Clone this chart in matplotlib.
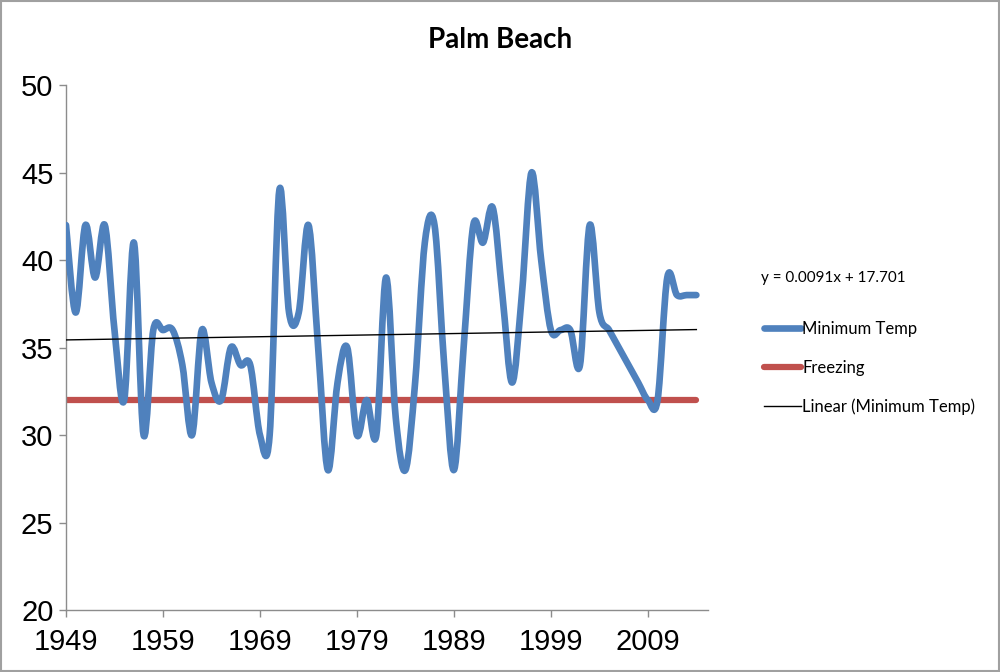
import matplotlib
matplotlib.use("Agg")
import matplotlib.pyplot as plt
from matplotlib import font_manager
from matplotlib.path import Path
from matplotlib.patches import PathPatch, Rectangle
from matplotlib.lines import Line2D
import numpy as np

# data
years = list(range(1949, 2015))
min_temp = [42, 37, 42, 39, 42, 36, 32, 41, 30, 36,
            36, 36, 34, 30, 36, 33, 32, 35, 34, 34,
            30, 30, 44, 37, 37, 42, 35, 28, 33, 35,
            30, 32, 30, 39, 31, 28, 33, 41, 42, 34,
            28, 35, 42, 41, 43, 38, 33, 38, 45, 40,
            36, 36, 36, 34, 42, 37, 36, 35, 34, 33,
            32, 32, 39, 38, 38, 38]
freezing = 32
trend_slope = 0.0091
trend_icept = 17.701
tick_years = [1949, 1959, 1969, 1979, 1989, 1999, 2009]
y_ticks = [20, 25, 30, 35, 40, 45, 50]


def pick_font(names):
    for n in names:
        try:
            font_manager.findfont(n, fallback_to_default=False)
            return n
        except Exception:
            pass
    return "DejaVu Sans"


tick_font = pick_font(["Liberation Sans Narrow", "Liberation Sans"])
text_font = pick_font(["Lato", "Open Sans"])


def smooth_path(xs, ys):
    # excel-like smoothed line: bezier segments through every data point
    x = np.asarray(xs, float)
    y = np.asarray(ys, float)
    n = len(x)
    verts = [(x[0], y[0])]
    codes = [Path.MOVETO]
    for i in range(n - 1):
        i0 = max(i - 1, 0)
        i3 = min(i + 2, n - 1)
        c1 = (x[i] + (x[i + 1] - x[i0]) / 6, y[i] + (y[i + 1] - y[i0]) / 6)
        c2 = (x[i + 1] - (x[i3] - x[i]) / 6, y[i + 1] - (y[i3] - y[i]) / 6)
        verts += [c1, c2, (x[i + 1], y[i + 1])]
        codes += [Path.CURVE4] * 3
    return Path(verts, codes)


blue = "#4F81BD"
red = "#C0504D"
grey = "#8C8C8C"

fig = plt.figure(figsize=(10, 6.72), dpi=100)
ax = fig.add_axes([0.066, 0.0923, 0.642, 0.781])

ax.add_patch(PathPatch(smooth_path(years, min_temp), facecolor="none",
                       edgecolor=blue, lw=4.8, capstyle="round",
                       joinstyle="round", zorder=3))
ax.plot([years[0], years[-1]], [freezing, freezing], color=red, lw=4.5,
        solid_capstyle="round", zorder=2)
tx = np.array([years[0], years[-1]])
ax.plot(tx, trend_slope * tx + trend_icept, color="black", lw=1, zorder=4)

ax.set_xlim(1949, 2015.2)
ax.set_ylim(20, 50)
ax.set_xticks(tick_years)
ax.set_yticks(y_ticks)
ax.set_xticklabels([str(t) for t in tick_years], fontfamily=tick_font, fontsize=21)
ax.set_yticklabels([str(t) for t in y_ticks], fontfamily=tick_font, fontsize=21)
ax.tick_params(axis="both", direction="out", length=5, color=grey, width=1)
ax.tick_params(axis="x", pad=8)
ax.tick_params(axis="y", pad=4)
for s in ["top", "right"]:
    ax.spines[s].set_visible(False)
for s in ["left", "bottom"]:
    ax.spines[s].set_color(grey)
    ax.spines[s].set_linewidth(1)

fig.text(0.5, 0.94, "Palm Beach", ha="center", va="center",
         fontfamily=text_font, fontweight="bold", fontsize=20)
fig.text(0.761, 0.586, "y = 0.0091x + 17.701", ha="left", va="center",
         fontfamily=text_font, fontsize=11)

handles = [Line2D([], [], color=blue, lw=4.8, solid_capstyle="round"),
           Line2D([], [], color=red, lw=4.5, solid_capstyle="round"),
           Line2D([], [], color="black", lw=1)]
labels = ["Minimum Temp", "Freezing", "Linear (Minimum Temp)"]
fig.legend(handles, labels, loc="upper left", bbox_to_anchor=(0.764, 0.522),
           frameon=False, prop={"family": text_font, "size": 12},
           handlelength=2.2, handletextpad=0.1, labelspacing=1.35,
           borderpad=0, borderaxespad=0)

fig.add_artist(Rectangle((0.001, 0.001), 0.998, 0.997, transform=fig.transFigure,
                         fill=False, edgecolor="#A0A0A0", lw=1.5))

fig.savefig("out.png", dpi=100)
